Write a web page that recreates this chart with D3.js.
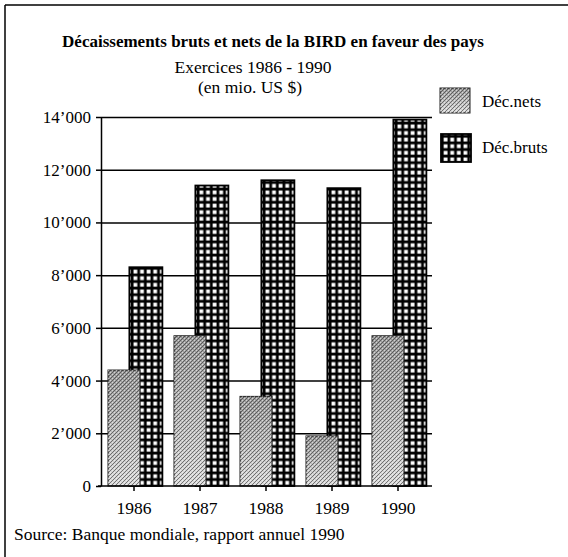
<!DOCTYPE html>
<html>
<head>
<meta charset="utf-8">
<script src="https://cdn.jsdelivr.net/npm/d3@7/dist/d3.min.js"></script>
<style>
  body { margin: 0; background: #fff; }
  text { font-family: "Liberation Serif", "DejaVu Serif", serif; fill: #000; }
</style>
</head>
<body>
<div id="chart"></div>
<script>
// data (mio. US $)
var years = ["1986", "1987", "1988", "1989", "1990"];
var netsValues = [4400, 5700, 3400, 1900, 5700];
var brutsValues = [8300, 11400, 11600, 11300, 13900];
var yTicks = [0, 2000, 4000, 6000, 8000, 10000, 12000, 14000];
var seriesNames = ["Déc.nets", "Déc.bruts"];

var w = 568, h = 557;
var plotLeft = 101, plotRight = 431, plotTop = 117, plotBottom = 486;

var svg = d3.select("#chart").append("svg")
  .attr("width", w)
  .attr("height", h);

var defs = svg.append("defs");

// grid pattern for the gross bars
var grid = defs.append("pattern")
  .attr("id", "grid")
  .attr("patternUnits", "userSpaceOnUse")
  .attr("width", 6.6).attr("height", 6.6)
  .attr("y", plotBottom);
grid.append("rect").attr("width", 6.6).attr("height", 6.6).attr("fill", "#000");
grid.append("rect").attr("x", 1.5).attr("y", 1.5).attr("width", 3.8).attr("height", 3.8).attr("fill", "#fff");

// stipple for the net bars
var dots = defs.append("pattern")
  .attr("id", "dots")
  .attr("patternUnits", "userSpaceOnUse")
  .attr("width", 4).attr("height", 4);
[[0,0],[2,2],[1,3],[3,1]].forEach(function(p) {
  dots.append("rect").attr("x", p[0]).attr("y", p[1]).attr("width", 1).attr("height", 1).attr("fill", "#222");
});
[[2,0],[0,2]].forEach(function(p) {
  dots.append("rect").attr("x", p[0]).attr("y", p[1]).attr("width", 1).attr("height", 1).attr("fill", "#fff");
});

var shade = defs.append("linearGradient")
  .attr("id", "shade")
  .attr("x1", 0).attr("y1", 0).attr("x2", 0).attr("y2", 1);
shade.append("stop").attr("offset", "0%").attr("stop-color", "#9a9a9a");
shade.append("stop").attr("offset", "45%").attr("stop-color", "#b8b8b8");
shade.append("stop").attr("offset", "100%").attr("stop-color", "#dcdcdc");

// frame (only top and left edges show in the scan)
svg.append("line").attr("x1", 5).attr("y1", 5).attr("x2", w).attr("y2", 5)
  .attr("stroke", "#000").attr("stroke-width", 1.5);
svg.append("line").attr("x1", 5).attr("y1", 5).attr("x2", 5).attr("y2", h)
  .attr("stroke", "#000").attr("stroke-width", 1.5);

// titles
svg.append("text")
  .attr("x", 273).attr("y", 47)
  .attr("text-anchor", "middle")
  .attr("font-size", "17px")
  .attr("font-weight", "bold")
  .text("Décaissements bruts et nets de la BIRD en faveur des pays");
svg.append("text")
  .attr("x", 253).attr("y", 73)
  .attr("text-anchor", "middle")
  .attr("font-size", "17.5px")
  .text("Exercices 1986 - 1990");
svg.append("text")
  .attr("x", 250).attr("y", 93)
  .attr("text-anchor", "middle")
  .attr("font-size", "17.5px")
  .text("(en mio. US $)");

//Scales
var x = d3.scaleBand().domain(years).range([plotLeft, plotRight]);
var y = d3.scaleLinear().domain([0, 14000]).range([plotBottom, plotTop]);
var bw = x.bandwidth();

var fmt = function(d) { return d3.format(",")(d).replace(",", "\u2019"); };

// horizontal grid lines
svg.append("g")
  .attr("transform", "translate(" + plotLeft + ",0)")
  .call(d3.axisRight(y).tickValues(yTicks.slice(1)).tickSize(plotRight - plotLeft + 1).tickFormat(""))
  .call(function(g) { g.select(".domain").remove(); })
  .selectAll("line").attr("stroke", "#000").attr("stroke-width", 1.5);

// gross bars first, net bars drawn over them
svg.selectAll(".bruts")
  .data(brutsValues)
  .enter()
  .append("rect")
  .attr("class", "bruts")
  .attr("x", function(d, i) { return x(years[i]) + bw * 0.43; })
  .attr("y", function(d) { return y(d); })
  .attr("width", bw * 0.5)
  .attr("height", function(d) { return plotBottom - y(d); })
  .attr("fill", "url(#grid)")
  .attr("stroke", "#000")
  .attr("stroke-width", 1.8);

var nets = svg.selectAll(".nets")
  .data(netsValues)
  .enter()
  .append("g")
  .attr("class", "nets");
nets.append("rect")
  .attr("x", function(d, i) { return x(years[i]) + bw * 0.106; })
  .attr("y", function(d) { return y(d); })
  .attr("width", bw * 0.485)
  .attr("height", function(d) { return plotBottom - y(d); })
  .attr("fill", "url(#shade)")
  .attr("stroke", "#222")
  .attr("stroke-width", 1);
nets.append("rect")
  .attr("x", function(d, i) { return x(years[i]) + bw * 0.106; })
  .attr("y", function(d) { return y(d); })
  .attr("width", bw * 0.485)
  .attr("height", function(d) { return plotBottom - y(d); })
  .attr("fill", "url(#dots)")
  .attr("opacity", 0.55);

// y axis
var yAxis = svg.append("g")
  .attr("transform", "translate(" + plotLeft + ",0)")
  .call(d3.axisLeft(y).tickValues(yTicks).tickSize(5).tickSizeOuter(0).tickFormat(fmt));
yAxis.selectAll("line, path").attr("stroke", "#000").attr("stroke-width", 1.5);
yAxis.selectAll("text")
  .attr("font-size", "17px")
  .attr("font-family", "Liberation Serif")
  .attr("x", -10);

// x axis
var xAxis = svg.append("g")
  .attr("transform", "translate(0," + plotBottom + ")")
  .call(d3.axisBottom(x).tickSize(5).tickSizeOuter(0));
xAxis.select(".domain").attr("d", "M" + (plotLeft - 3) + ",0H" + (plotRight + 1));
xAxis.selectAll("line, path").attr("stroke", "#000").attr("stroke-width", 1.5);
xAxis.selectAll("text")
  .attr("font-size", "17.5px")
  .attr("font-family", "Liberation Serif")
  .attr("y", 16);

// legend
var legend = svg.append("g");
legend.append("rect").attr("x", 440).attr("y", 88).attr("width", 30).attr("height", 25)
  .attr("fill", "url(#shade)").attr("stroke", "#222").attr("stroke-width", 1);
legend.append("rect").attr("x", 440).attr("y", 88).attr("width", 30).attr("height", 25)
  .attr("fill", "url(#dots)").attr("opacity", 0.55);
legend.append("rect").attr("x", 441).attr("y", 134).attr("width", 30).attr("height", 28)
  .attr("fill", "url(#grid)").attr("stroke", "#000").attr("stroke-width", 1.8);
legend.selectAll(".ltext")
  .data(seriesNames)
  .enter()
  .append("text")
  .attr("class", "ltext")
  .attr("x", 482)
  .attr("y", function(d, i) { return i == 0 ? 107 : 153; })
  .attr("font-size", "17px")
  .text(function(d) { return d; });

// source
svg.append("text")
  .attr("x", 14).attr("y", 540)
  .attr("font-size", "17.5px")
  .text("Source: Banque mondiale, rapport annuel 1990");
</script>
</body>
</html>
